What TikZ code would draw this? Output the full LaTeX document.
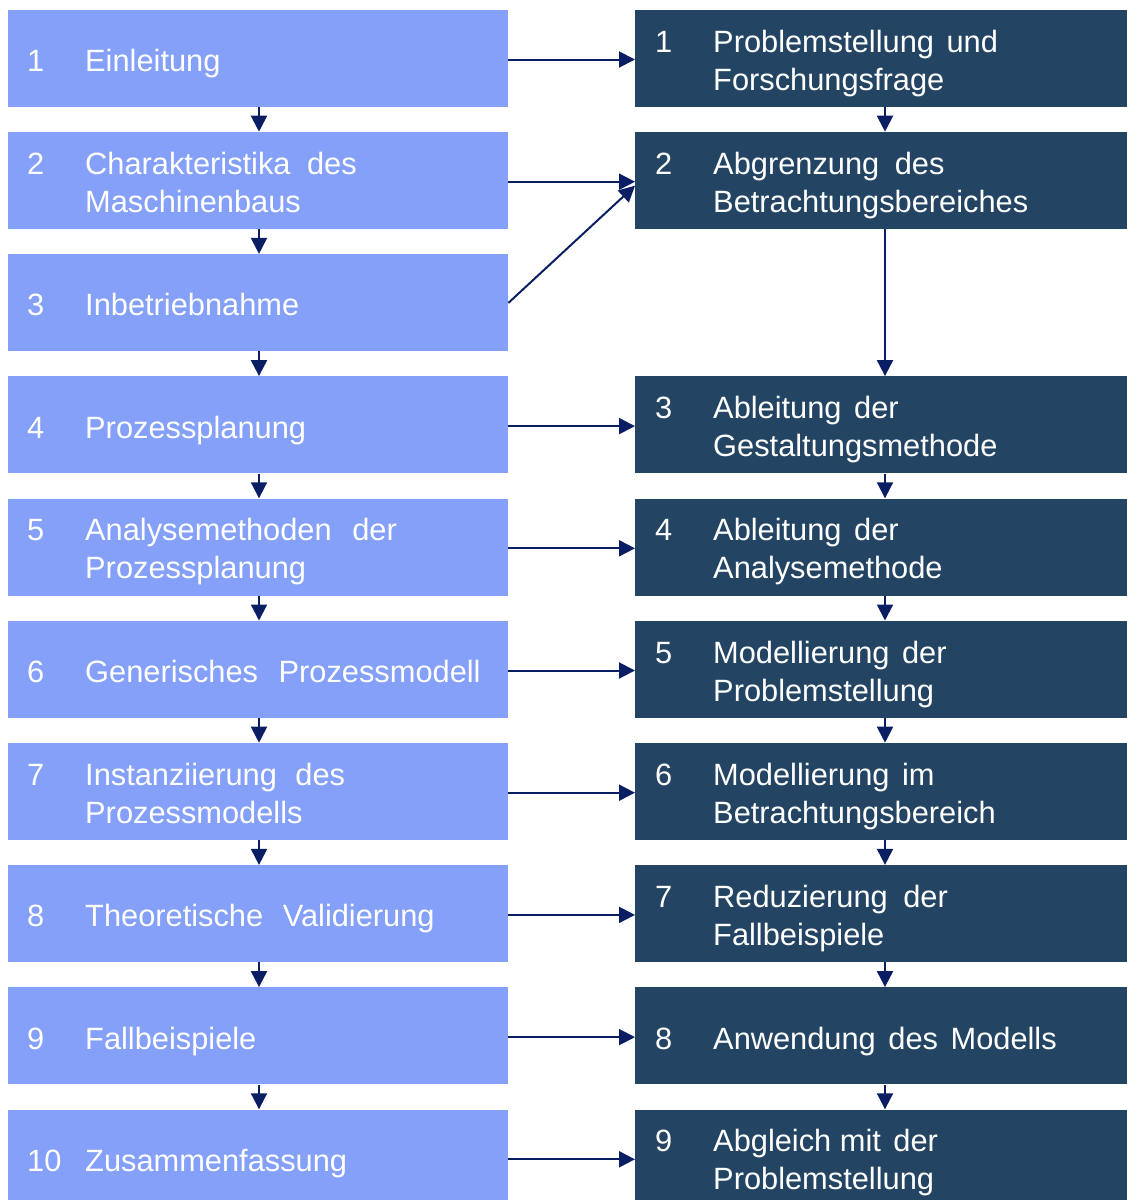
\documentclass[tikz,border=0pt]{standalone}
\usepackage{fontspec}
\setmainfont{Liberation Sans}
\usetikzlibrary{arrows.meta}
\definecolor{chapterblue}{HTML}{85A0F8}
\definecolor{stepnavy}{HTML}{234563}
\definecolor{arrownavy}{HTML}{0A1E64}
\begin{document}
\begin{tikzpicture}[x=1pt,y=-1pt,
  lbox/.style={fill=chapterblue,draw=none,anchor=north west,minimum width=500pt,minimum height=97pt,inner sep=0pt},
  rbox/.style={fill=stepnavy,draw=none,anchor=north west,minimum width=492pt,minimum height=97pt,inner sep=0pt},
  lbl/.style={text=white,anchor=base west,inner sep=0pt,align=left,
    font=\fontsize{30.8pt}{38pt}\selectfont},
  arr/.style={draw=arrownavy,line width=2pt,-{Triangle[length=16pt,width=16pt]}}]
\useasboundingbox (0,0) rectangle (1127,1200);

% left column: chapters
\node[lbox] (L1) at (8,9.5) {};
\node[lbox] (L2) at (8,131.7) {};
\node[lbox] (L3) at (8,253.9) {};
\node[lbox] (L4) at (8,376.1) {};
\node[lbox] (L5) at (8,498.3) {};
\node[lbox] (L6) at (8,620.5) {};
\node[lbox] (L7) at (8,742.7) {};
\node[lbox] (L8) at (8,864.9) {};
\node[lbox] (L9) at (8,987.1) {};
\node[lbox,minimum height=90.7pt] (L10) at (8,1109.3) {};

% right column: steps
\node[rbox] (R1) at (635,9.5) {};
\node[rbox] (R2) at (635,131.7) {};
\node[rbox] (R3) at (635,376.1) {};
\node[rbox] (R4) at (635,498.3) {};
\node[rbox] (R5) at (635,620.5) {};
\node[rbox] (R6) at (635,742.7) {};
\node[rbox] (R7) at (635,864.9) {};
\node[rbox] (R8) at (635,987.1) {};
\node[rbox,minimum height=90.7pt] (R9) at (635,1109.3) {};

% chapter labels (two-line labels sit on the baseline of their last line)
\node[lbl] (nL1) at (27,71.5) {1};
\node[lbl] (tL1) at (85,71.5) {Einleitung};
\node[lbl] (nL2) at (27,174.2) {2};
\node[lbl] (tL2) at (85,212.2) {Charakteristika\hspace{8pt} des\\Maschinenbaus};
\node[lbl] (nL3) at (27,315.9) {3};
\node[lbl] (tL3) at (85,315.9) {Inbetriebnahme};
\node[lbl] (nL4) at (27,438.1) {4};
\node[lbl] (tL4) at (85,438.1) {Prozessplanung};
\node[lbl] (nL5) at (27,540.8) {5};
\node[lbl] (tL5) at (85,578.8) {Analysemethoden\hspace{12pt} der\\Prozessplanung};
\node[lbl] (nL6) at (27,682.5) {6};
\node[lbl] (tL6) at (85,682.5) {Generisches\hspace{12pt} Prozessmodell};
\node[lbl] (nL7) at (27,785.2) {7};
\node[lbl] (tL7) at (85,823.2) {Instanziierung\hspace{10pt} des\\Prozessmodells};
\node[lbl] (nL8) at (27,926.9) {8};
\node[lbl] (tL8) at (85,926.9) {Theoretische\hspace{11pt} Validierung};
\node[lbl] (nL9) at (27,1049.1) {9};
\node[lbl] (tL9) at (85,1049.1) {Fallbeispiele};
\node[lbl] (nL10) at (27,1171.3) {10};
\node[lbl] (tL10) at (85,1171.3) {Zusammenfassung};

% step labels
\node[lbl] (nR1) at (655,52) {1};
\node[lbl] (tR1) at (713,90) {Problemstellung\hspace{4pt} und\\Forschungsfrage};
\node[lbl] (nR2) at (655,174.2) {2};
\node[lbl] (tR2) at (713,212.2) {Abgrenzung\hspace{7pt} des\\Betrachtungsbereiches};
\node[lbl] (nR3) at (655,418.6) {3};
\node[lbl] (tR3) at (713,456.6) {Ableitung\hspace{4pt} der\\Gestaltungsmethode};
\node[lbl] (nR4) at (655,540.8) {4};
\node[lbl] (tR4) at (713,578.8) {Ableitung\hspace{4pt} der\\Analysemethode};
\node[lbl] (nR5) at (655,663) {5};
\node[lbl] (tR5) at (713,701) {Modellierung\hspace{4pt} der\\Problemstellung};
\node[lbl] (nR6) at (655,785.2) {6};
\node[lbl] (tR6) at (713,823.2) {Modellierung\hspace{4pt} im\\Betrachtungsbereich};
\node[lbl] (nR7) at (655,907.4) {7};
\node[lbl] (tR7) at (713,945.4) {Reduzierung\hspace{7pt} der\\Fallbeispiele};
\node[lbl] (nR8) at (655,1049.1) {8};
\node[lbl] (tR8) at (713,1049.1) {Anwendung\hspace{4pt} des\hspace{4pt} Modells};
\node[lbl] (nR9) at (655,1151.8) {9};
\node[lbl] (tR9) at (713,1189.8) {Abgleich mit\hspace{4pt} der\\Problemstellung};

% column axes for the vertical connectors
\coordinate (lx) at (259,0);
\coordinate (rx) at (885,0);

% vertical flow, left column
\foreach \a/\b in {L1/L2,L2/L3,L3/L4,L4/L5,L5/L6,L6/L7,L7/L8,L8/L9,L9/L10}
  \draw[arr] (\a.south -| lx) -- (\b.north -| lx);
% vertical flow, right column
\foreach \a/\b in {R1/R2,R2/R3,R3/R4,R4/R5,R5/R6,R6/R7,R7/R8,R8/R9}
  \draw[arr] (\a.south -| rx) -- (\b.north -| rx);

% horizontal links between chapters and steps
\foreach \a/\b in {L1/R1,L2/R2,L4/R3,L5/R4,L6/R5,L7/R6,L8/R7,L9/R8,L10/R9}
  \draw[arr] ([yshift=-50pt]\a.north east) -- ([yshift=-50pt]\b.north west);
% chapter 3 also feeds step 2
\draw[arr] ([yshift=-49pt]L3.north east) -- ([yshift=-54pt]R2.north west);
\end{tikzpicture}
\end{document}
